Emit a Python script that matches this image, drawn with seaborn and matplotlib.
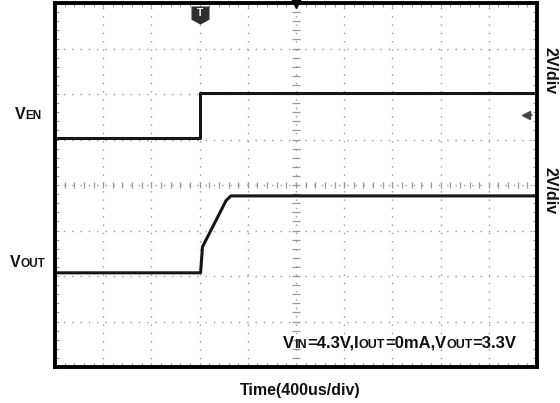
import matplotlib
matplotlib.use("Agg")
import numpy as np
import pandas as pd
import matplotlib.pyplot as plt
import seaborn as sns
from matplotlib.path import Path
from matplotlib.ticker import MultipleLocator, NullFormatter
from matplotlib.transforms import IdentityTransform

# ---- data (in screen divisions: 10 x 8 grid, 400us/div, 2V/div) ----
ven_t = [0.0, 3.0, 3.0, 10.0]
ven_v = [5.03, 5.03, 6.02, 6.02]
vout_t = [0.0, 3.02, 3.06, 3.55, 3.65, 10.0]
vout_v = [2.07, 2.07, 2.64, 3.66, 3.76, 3.76]

trigger_pos = (3.0, 7.74)
center_marker = (5.0, 8.0)
level_marker = (9.78, 5.54)

x_divs = 10
y_divs = 8

sns.set_style("white")
plt.rcParams['font.family'] = ['Liberation Sans', 'DejaVu Sans']

W, H = 560, 403
fig = plt.figure(figsize=(W / 100, H / 100), dpi=100)
ax = fig.add_axes([55 / W, 36 / H, 482 / W, 364 / H])
ax.set_xlim(0, x_divs)
ax.set_ylim(0, y_divs)

# grid
grid_col = '#9a9a9a'
ax.xaxis.set_major_locator(MultipleLocator(1))
ax.yaxis.set_major_locator(MultipleLocator(1))
ax.xaxis.set_minor_locator(MultipleLocator(0.2))
ax.yaxis.set_minor_locator(MultipleLocator(0.2))
ax.xaxis.set_major_formatter(NullFormatter())
ax.yaxis.set_major_formatter(NullFormatter())
ax.grid(True, which='major', linestyle=(0, (1, 5)), color=grid_col, lw=1.0)
ax.tick_params(which='both', direction='in', length=3, width=0.8, color=grid_col,
               top=True, right=True, bottom=True, left=True)

# center cross minor ticks
cy = np.arange(0, y_divs + 0.01, 0.2)
cx = np.arange(0, x_divs + 0.01, 0.2)
ax.plot(np.full_like(cy, 5.0), cy, ls='none', marker='_', ms=6, mew=0.9, color=grid_col)
ax.plot(cx, np.full_like(cx, 4.0), ls='none', marker='|', ms=5, mew=0.9, color=grid_col)

# traces
df_en = pd.DataFrame({'t': ven_t, 'v': ven_v})
df_out = pd.DataFrame({'t': vout_t, 'v': vout_v})
sns.lineplot(data=df_en, x='t', y='v', sort=False, estimator=None, color='#151515', lw=2.2, ax=ax)
sns.lineplot(data=df_out, x='t', y='v', sort=False, estimator=None, color='#151515', lw=2.2, ax=ax)
ax.set_xlabel('')
ax.set_ylabel('')

for s in ax.spines.values():
    s.set_visible(True)
    s.set_linewidth(2.8)
    s.set_color('black')

# markers
shield = Path([(-1, 1), (1, 1), (1, -0.45), (0, -1), (-1, -0.45), (-1, 1)],
              [Path.MOVETO, Path.LINETO, Path.LINETO, Path.LINETO, Path.LINETO, Path.CLOSEPOLY])
ax.plot([trigger_pos[0]], [trigger_pos[1]], marker=shield, ms=12, color='#2e2e2e', ls='none', zorder=5)
ax.text(trigger_pos[0], trigger_pos[1] + 0.04, 'T', color='white', fontsize=7.5, fontweight='bold',
        ha='center', va='center', zorder=6)
ax.plot([center_marker[0]], [center_marker[1]], marker='v', ms=7, color='black', ls='none',
        clip_on=False, zorder=6)
ax.plot([level_marker[0]], [level_marker[1]], marker='<', ms=6, color='#444444', ls='none', zorder=5)
ax.plot([level_marker[0], level_marker[0] + 0.12], [level_marker[1]] * 2, color='#444444', lw=1.2)

# rich text helper (pixel coordinates, origin bottom-left)
renderer = fig.canvas.get_renderer()


def rich(x, y, parts):
    for s, size in parts:
        t = fig.text(x, y, s, fontsize=size, fontweight='bold', va='baseline', ha='left',
                     transform=IdentityTransform(), color='#111111')
        x += t.get_window_extent(renderer).width


rich(15, 284, [('V', 11.5), ('EN', 8.5)])
rich(10, 136, [('V', 11.5), ('OUT', 8.5)])
rich(283, 55, [('V', 12), ('IN', 9), ('=4.3V,', 12), ('I', 12), ('OUT', 9), ('=0mA,', 12),
               ('V', 12), ('OUT', 9), ('=3.3V', 12)])

fig.text(300, 8, 'Time(400us/div)', fontsize=11.5, fontweight='bold', ha='center', va='baseline',
         transform=IdentityTransform(), color='#111111')
fig.text(550, H - 71, '2V/div', fontsize=11.5, fontweight='bold', rotation=270, ha='center',
         va='center', transform=IdentityTransform(), color='#111111')
fig.text(550, H - 191, '2V/div', fontsize=11.5, fontweight='bold', rotation=270, ha='center',
         va='center', transform=IdentityTransform(), color='#111111')

fig.savefig('out.png', dpi=100)
